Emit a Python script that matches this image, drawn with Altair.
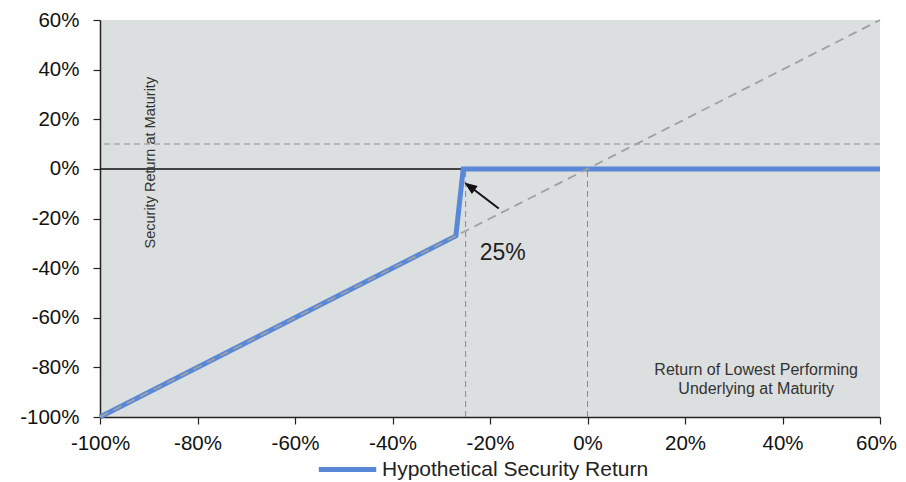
import altair as alt
import pandas as pd

# ---- data (percent units) ----
axis_ticks = [-100, -80, -60, -40, -20, 0, 20, 40, 60]
security_x = [-100, -27, -25.5, 60]
security_y = [-100, -27, 0, 0]
diag_x = [-100, 60]
diag_y = [-100, 60]
barrier_levels = [-25, 0]
upper_ref_level = 10
series_name = "Hypothetical Security Return"
arrow_x = [-18.2, -24.2]
arrow_y = [-16.0, -7.0]
label_25 = "25%"
label_25_pos = (-17.4, -33.9)
y_title = "Security Return at Maturity"
y_title_pos = (-89.6, 2.5)
x_title_lines = ["Return of Lowest Performing", "Underlying at Maturity"]
x_title_pos = (34.6, [-81.0, -88.6])

W, H = 780, 397
FONT = "Liberation Sans"
xs = alt.Scale(domain=[-100, 60], nice=False, zero=False)
ys = alt.Scale(domain=[-100, 60], nice=False, zero=False)

sec_df = pd.DataFrame({"x": security_x, "y": security_y, "s": [series_name] * len(security_x), "o": range(len(security_x))})
diag_df = pd.DataFrame({"x": diag_x, "y": diag_y})
bar_df = pd.DataFrame({"x": barrier_levels, "y0": [-100] * len(barrier_levels), "y1": [0] * len(barrier_levels)})
arrow_df = pd.DataFrame({"x": arrow_x, "y": arrow_y, "o": [0, 1]})

base_x = alt.X("x:Q", scale=xs, axis=alt.Axis(
    values=axis_ticks, labelExpr="datum.value + '%'", title=None,
    labelFlush=False, labelOverlap=False, labelPadding=9,
    labelOffset={"condition": {"test": "datum.value >= 60", "value": -4}, "value": 0}))
base_y = alt.Y("y:Q", scale=ys, axis=alt.Axis(values=axis_ticks, labelExpr="datum.value + '%'", title=None,
                                               labelFlush=False, labelOverlap=False, labelPadding=14))

upper = alt.Chart(pd.DataFrame({"y": [upper_ref_level]})).mark_rule(
    color="#a8a8a8", strokeDash=[6, 4], strokeWidth=1.5
).encode(y=alt.Y("y:Q", scale=ys))

barriers = alt.Chart(bar_df).mark_rule(
    color="#8a8a8a", strokeDash=[6, 4], strokeWidth=1
).encode(x=alt.X("x:Q", scale=xs), y=alt.Y("y0:Q", scale=ys), y2="y1:Q")

zero = alt.Chart(pd.DataFrame({"x": [-100], "x2": [60], "y": [0]})).mark_rule(
    color="#111111", strokeWidth=1.5
).encode(x=alt.X("x:Q", scale=xs), x2="x2:Q", y=alt.Y("y:Q", scale=ys))

sec = alt.Chart(sec_df).mark_line(strokeWidth=5, strokeJoin="miter").encode(
    x=base_x, y=base_y, order="o:Q",
    color=alt.Color("s:N", scale=alt.Scale(range=["#5a88d8"]),
                    legend=alt.Legend(title=None, orient="none", legendX=216, legendY=418,
                                      symbolType="stroke", symbolStrokeWidth=5, symbolSize=3300,
                                      labelFont=FONT, labelFontSize=21, labelColor="#222222",
                                      labelOffset=3, labelLimit=500)),
)

diag = alt.Chart(diag_df).mark_line(color="#a0a0a0", strokeDash=[9, 6], strokeWidth=1.8).encode(
    x=alt.X("x:Q", scale=xs), y=alt.Y("y:Q", scale=ys)
)

arrow_line = alt.Chart(arrow_df).mark_line(color="#111111", strokeWidth=2).encode(
    x=alt.X("x:Q", scale=xs), y=alt.Y("y:Q", scale=ys), order="o:Q"
)
arrow_head = alt.Chart(arrow_df.iloc[[1]]).mark_point(
    shape="M0,-1L0.75,1L-0.75,1Z", filled=True, color="#111111", size=170, angle=306, opacity=1
).encode(x=alt.X("x:Q", scale=xs), y=alt.Y("y:Q", scale=ys))

t25 = alt.Chart(pd.DataFrame({"x": [label_25_pos[0]], "y": [label_25_pos[1]], "t": [label_25]})).mark_text(
    font=FONT, fontSize=23, color="#222222"
).encode(x=alt.X("x:Q", scale=xs), y=alt.Y("y:Q", scale=ys), text="t:N")

ytitle = alt.Chart(pd.DataFrame({"x": [y_title_pos[0]], "y": [y_title_pos[1]], "t": [y_title]})).mark_text(
    font=FONT, fontSize=14.5, color="#333333", angle=270
).encode(x=alt.X("x:Q", scale=xs), y=alt.Y("y:Q", scale=ys), text="t:N")

xtitle = alt.Chart(pd.DataFrame({"x": [x_title_pos[0]] * 2, "y": x_title_pos[1], "t": x_title_lines})).mark_text(
    font=FONT, fontSize=16, color="#333333"
).encode(x=alt.X("x:Q", scale=xs), y=alt.Y("y:Q", scale=ys), text="t:N")

chart = alt.layer(upper, barriers, zero, sec, diag, arrow_line, arrow_head, t25, ytitle, xtitle).properties(
    width=W, height=H,
    padding={"left": 92, "top": 12, "right": 18, "bottom": 64},
    autosize=alt.AutoSizeParams(type="none"),
    background="white",
).configure_view(fill="#dcdfdf", stroke=None).configure_axis(
    labelFont=FONT, labelFontSize=20.5, labelColor="#111111",
    domainColor="#222222", domainWidth=1.5, tickColor="#222222", tickSize=7, tickWidth=1.2,
    grid=False,
)

chart.save("out.html", embed_options={"renderer": "svg", "actions": False})
